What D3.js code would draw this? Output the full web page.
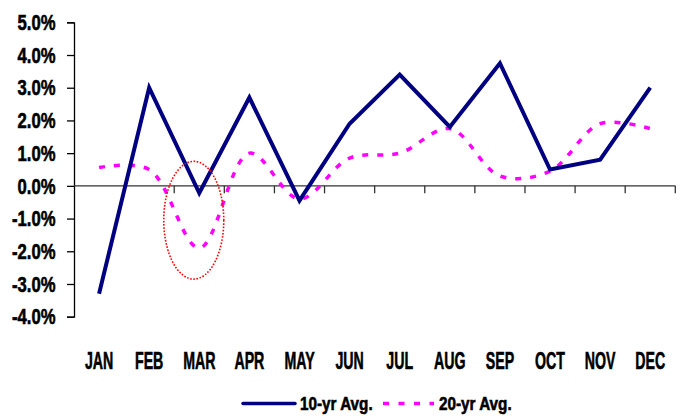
<!DOCTYPE html>
<html>
<head>
<meta charset="utf-8">
<script src="https://cdn.jsdelivr.net/npm/d3@7"></script>
<style>
  html, body { margin: 0; padding: 0; background: #fff; }
  svg { display: block; }
  text { font-family: "Liberation Sans", Arial, sans-serif; font-weight: bold; fill: #000; stroke: #000; stroke-width: 0.6px; }
</style>
</head>
<body>
<svg id="chart" width="685" height="416"></svg>
<script>
// ---- data ----
const months = ["JAN","FEB","MAR","APR","MAY","JUN","JUL","AUG","SEP","OCT","NOV","DEC"];
const avg10 = [-3.3, 3.0, -0.22, 2.7, -0.45, 1.9, 3.4, 1.8, 3.75, 0.5, 0.8, 3.0];
const avg20 = [0.56, 0.5, -1.9, 1.0, -0.4, 0.85, 1.0, 1.75, 0.3, 0.45, 1.9, 1.75];
const seriesNames = ["10-yr Avg.", "20-yr Avg."];
const yTicks = [5, 4, 3, 2, 1, 0, -1, -2, -3, -4];
// annotation ellipse (in data units around MAR dip)
const ellipseTop = 0.75, ellipseBottom = -2.85;

// ---- layout ----
const svg = d3.select("#chart");
const plotL = 74, plotR = 675.3, plotT = 22.3, plotB = 316.7;

const x = d3.scaleBand().domain(months).range([plotL, plotR]).padding(0);
const xc = m => x(m) + x.bandwidth() / 2;
const y = d3.scaleLinear().domain([-4, 5]).range([plotB, plotT]);

// helper: horizontal condensing factor so a reference string reaches a target width
function condense(str, size, target) {
  const t = svg.append("text").style("font-size", size + "px").text(str);
  const w = t.node().getComputedTextLength();
  t.remove();
  return w > 0 ? target / w : 1;
}
const fmt = d => d.toFixed(1) + "%";

// y axis line + ticks
const yAxis = d3.axisLeft(y).tickValues(yTicks).tickSize(7).tickFormat("");
const gy = svg.append("g").attr("transform", `translate(${plotL},0)`).call(yAxis);
gy.select(".domain").attr("stroke", "#000").attr("stroke-width", 1.3);
gy.selectAll(".tick line").attr("stroke", "#000").attr("stroke-width", 1.3);

// y labels (condensed bold)
const sy = condense("5.0%", 21.5, 38);
svg.append("g").selectAll("text").data(yTicks).join("text")
  .attr("transform", d => `translate(55.5,${y(d) + 7.7}) scale(${sy},1)`)
  .attr("text-anchor", "end")
  .style("font-size", "21.5px")
  .text(fmt);

// x axis along zero line, ticks at band boundaries
const zeroY = y(0);
svg.append("line").attr("x1", plotL).attr("x2", plotR).attr("y1", zeroY).attr("y2", zeroY)
  .attr("stroke", "#333").attr("stroke-width", 1.3);
const bounds = months.map(m => x(m)).concat([plotR]).slice(1);
svg.append("g").selectAll("line").data(bounds).join("line")
  .attr("x1", d => d).attr("x2", d => d)
  .attr("y1", zeroY).attr("y2", zeroY + 7.5)
  .attr("stroke", "#333").attr("stroke-width", 1.3);

// x labels at bottom
const sx = condense("MAR", 24.5, 32.3);
svg.append("g").selectAll("text").data(months).join("text")
  .attr("transform", d => `translate(${xc(d)},369.3) scale(${sx},1)`)
  .attr("text-anchor", "middle")
  .style("font-size", "24.5px")
  .text(d => d);

// lines
const line10 = d3.line().x((d, i) => xc(months[i])).y(d => y(d));
const line20 = d3.line().x((d, i) => xc(months[i])).y(d => y(d)).curve(d3.curveCatmullRom.alpha(0.5));

svg.append("path").datum(avg20).attr("d", line20)
  .attr("fill", "none").attr("stroke", "#FF00FF").attr("stroke-width", 3.5)
  .attr("stroke-dasharray", "6,9");

svg.append("path").datum(avg10).attr("d", line10)
  .attr("fill", "none").attr("stroke", "#000080").attr("stroke-width", 4)
  .attr("stroke-linejoin", "miter").attr("stroke-linecap", "butt");

// ellipse annotation
const ecy = (y(ellipseTop) + y(ellipseBottom)) / 2;
svg.append("ellipse")
  .attr("cx", xc("MAR") - 5.5).attr("cy", ecy)
  .attr("rx", 30).attr("ry", (y(ellipseBottom) - y(ellipseTop)) / 2)
  .attr("fill", "none").attr("stroke", "#FF0000").attr("stroke-width", 1.6)
  .attr("stroke-dasharray", "1.6,1.6");

// legend
const sl = condense(seriesNames[0], 18.5, 72.7);
const lg = svg.append("g");
lg.append("line").attr("x1", 243).attr("x2", 295).attr("y1", 403.5).attr("y2", 403.5)
  .attr("stroke", "#000080").attr("stroke-width", 3.5).attr("stroke-linecap", "round");
lg.append("text").attr("transform", `translate(300,410) scale(${sl},1)`).style("font-size", "18.5px").text(seriesNames[0]);
lg.append("line").attr("x1", 383).attr("x2", 434).attr("y1", 403.5).attr("y2", 403.5)
  .attr("stroke", "#FF00FF").attr("stroke-width", 3.5).attr("stroke-dasharray", "6,9.5");
lg.append("text").attr("transform", `translate(439,410) scale(${sl},1)`).style("font-size", "18.5px").text(seriesNames[1]);
</script>
</body>
</html>
